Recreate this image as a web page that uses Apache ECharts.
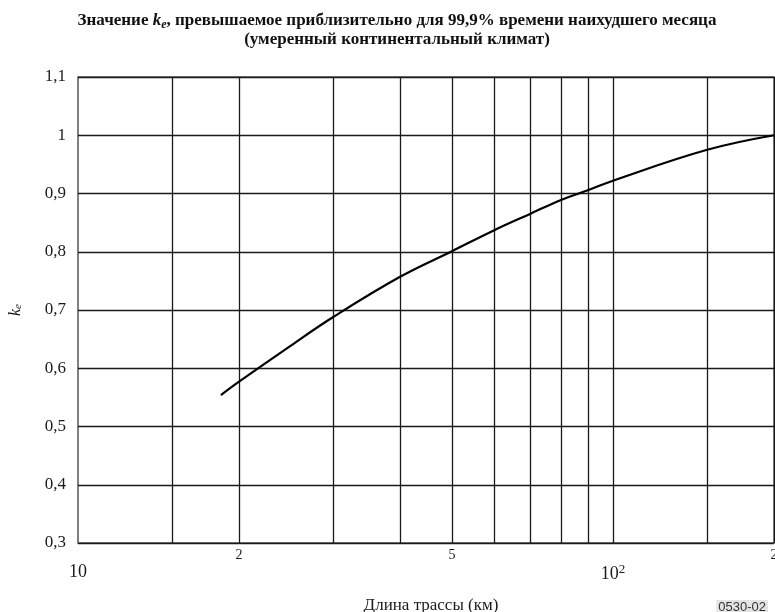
<!DOCTYPE html>
<html>
<head>
<meta charset="utf-8">
<script src="https://cdn.jsdelivr.net/npm/echarts@6/dist/echarts.min.js"></script>
<style>
  html, body { margin: 0; padding: 0; background: #fff; }
  #chart { width: 775px; height: 612px; }
</style>
</head>
<body>
<div id="chart"></div>
<script>
// Path length (km) and the k_e value exceeded for ~99.9% of the worst month
const pathLengthKm = [18.5, 20, 25, 30, 40, 50, 60, 70, 80, 90, 100, 150, 200];
const keValues     = [0.554, 0.577, 0.639, 0.688, 0.757, 0.801, 0.837, 0.865, 0.889, 0.906, 0.922, 0.975, 1.0];

// Vertical grid positions on the logarithmic distance axis
const xGridValues = [15, 20, 30, 40, 50, 60, 70, 80, 90, 100, 150, 200];
// Short mantissa labels placed under selected grid lines
const xMinorLabelValues = [20, 50, 200];
const xMinorLabelText = ['2', '5', '2'];
// Decade labels
const xDecadeValues = [10, 100];

const serif = '"Liberation Serif", "Times New Roman", serif';
const ink = '#1a1a1a';

const chart = echarts.init(document.getElementById('chart'), null, { renderer: 'canvas' });

const option = {
  animation: false,
  backgroundColor: '#fff',
  title: {
    text: 'Значение {i|k}{sub|e}, превышаемое приблизительно для 99,9% времени наихудшего месяца\n(умеренный континентальный климат)',
    left: 392,
    textAlign: 'center',
    top: 6,
    textStyle: {
      fontFamily: serif,
      fontSize: 17,
      fontWeight: 'bold',
      color: '#111',
      lineHeight: 19,
      rich: {
        i: { fontFamily: serif, fontSize: 17, fontStyle: 'italic', fontWeight: 'bold', color: '#111' },
        sub: { fontFamily: serif, fontSize: 12, fontStyle: 'italic', fontWeight: 'bold', color: '#111', padding: [8, 0, 0, 0] }
      }
    }
  },
  grid: {
    left: 78, right: 1, top: 77, bottom: 69,
    outerBoundsMode: 'none',
    containLabel: false,
    show: true, borderColor: '#555', borderWidth: 1.5, backgroundColor: 'transparent'
  },
  xAxis: [
    {
      type: 'log', logBase: 10, min: 10, max: 200,
      name: 'Длина трассы (км)', nameLocation: 'middle', nameGap: 54,
      nameTextStyle: { fontFamily: serif, fontSize: 17, color: ink, padding: [0, 0, 0, 10] },
      axisLine: { show: false }, axisTick: { show: false }, splitLine: { show: false },
      axisLabel: {
        customValues: xMinorLabelValues,
        margin: 5,
        fontFamily: serif, fontSize: 14, color: ink,
        formatter: v => {
          const i = xMinorLabelValues.findIndex(x => Math.abs(x - v) < 1e-6);
          return i >= 0 ? xMinorLabelText[i] : '';
        }
      }
    },
    {
      type: 'log', logBase: 10, min: 10, max: 200, position: 'bottom',
      axisLine: { show: false }, axisTick: { show: false }, splitLine: { show: false },
      axisLabel: {
        customValues: xDecadeValues,
        margin: 20,
        fontFamily: serif, fontSize: 18, color: ink,
        formatter: v => (Math.abs(v - 100) < 1e-6 ? '10{sup|2}' : '10'),
        rich: {
          sup: { fontFamily: serif, fontSize: 13, color: ink, padding: [0, 0, 10, 0] }
        }
      }
    }
  ],
  yAxis: {
    type: 'value', min: 0.3, max: 1.1, interval: 0.1,
    name: '{i|k}{sub|e}', nameLocation: 'middle', nameRotate: 90, nameGap: 54,
    nameTextStyle: {
      rich: {
        i: { fontFamily: serif, fontSize: 16, fontStyle: 'italic', color: ink },
        sub: { fontFamily: serif, fontSize: 11, fontStyle: 'italic', color: ink, padding: [6, 0, 0, 0] }
      }
    },
    axisLine: { show: false }, axisTick: { show: false },
    axisLabel: {
      margin: 12, fontFamily: serif, fontSize: 17, color: ink,
      formatter: v => {
        const r = Math.round(v * 10) / 10;
        return r === 1 ? '1' : r.toFixed(1).replace('.', ',');
      }
    },
    splitLine: { show: true, lineStyle: { color: ink, width: 1.3 } }
  },
  series: [
    {
      type: 'line',
      xAxisIndex: 0,
      data: pathLengthKm.map((x, i) => [x, keValues[i]]),
      smooth: 0.4,
      showSymbol: false,
      lineStyle: { color: '#000', width: 2.2 },
      markLine: {
        silent: true, symbol: 'none',
        label: { show: false },
        lineStyle: { color: ink, width: 1.3, type: 'solid' },
        data: xGridValues.map(v => ({ xAxis: v }))
      },
      z: 5
    }
  ],
  graphic: [
    {
      type: 'text', right: 7, bottom: -2,
      style: {
        text: '0530-02', fontFamily: '"Liberation Sans", Arial, sans-serif', fontSize: 13, fill: '#333',
        backgroundColor: '#e4e4e4', padding: [1, 2, 0, 2]
      }
    }
  ]
};

chart.setOption(option);
</script>
</body>
</html>
